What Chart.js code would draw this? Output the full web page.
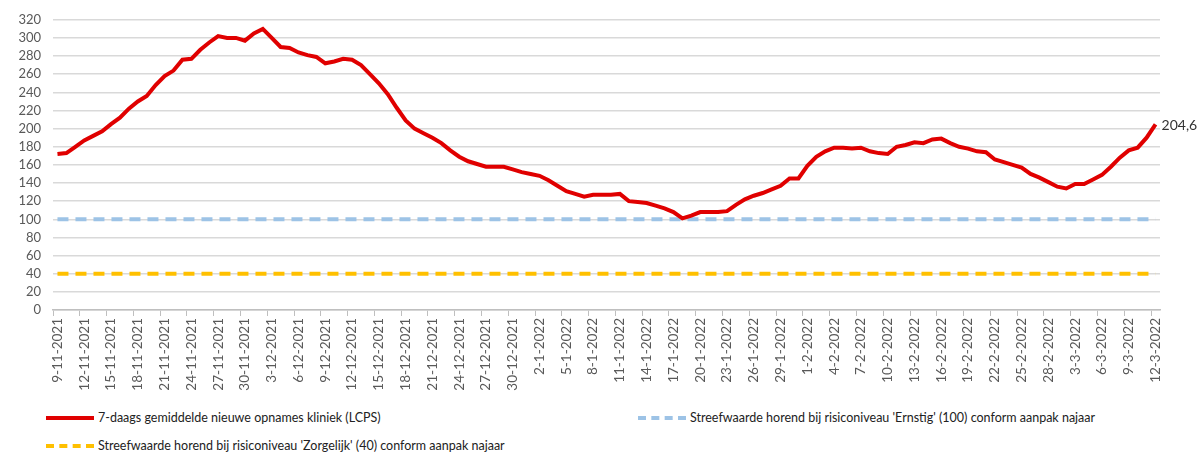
<!DOCTYPE html>
<html>
<head>
<meta charset="utf-8">
<script src="https://cdn.jsdelivr.net/npm/chart.js@4.4.0/dist/chart.umd.min.js"></script>
<style>
  body { margin: 0; background: #fff; }
  #wrap { position: relative; width: 1203px; height: 456px; }
  #chartBox { position: absolute; left: 0; top: 0; width: 1203px; height: 400px; }
  .leg { position: absolute; font-family: Lato, "Liberation Sans", sans-serif; font-size: 12.5px; color: #222; white-space: nowrap; display: flex; align-items: center; }
  .leg span.mark { display: inline-block; width: 48px; height: 0; margin-right: 4px; }
</style>
</head>
<body>
<div id="wrap">
  <div id="chartBox"><canvas id="chart"></canvas></div>
  <div class="leg" style="left:46px; top:410px;"><span class="mark" style="border-top:4px solid #e00000;"></span>7-daags gemiddelde nieuwe opnames kliniek (LCPS)</div>
  <div class="leg" style="left:638px; top:410px;"><span class="mark" style="border-top:4px dashed #9dc3e6;"></span>Streefwaarde horend bij risiconiveau 'Ernstig' (100) conform aanpak najaar</div>
  <div class="leg" style="left:46px; top:438px;"><span class="mark" style="border-top:4px dashed #ffc000;"></span>Streefwaarde horend bij risiconiveau 'Zorgelijk' (40) conform aanpak najaar</div>
</div>
<script>
// Dates (d-m-yyyy), one per day
const dates = [
  '9-11-2021','10-11-2021','11-11-2021','12-11-2021','13-11-2021','14-11-2021','15-11-2021','16-11-2021','17-11-2021','18-11-2021',
  '19-11-2021','20-11-2021','21-11-2021','22-11-2021','23-11-2021','24-11-2021','25-11-2021','26-11-2021','27-11-2021','28-11-2021',
  '29-11-2021','30-11-2021','1-12-2021','2-12-2021','3-12-2021','4-12-2021','5-12-2021','6-12-2021','7-12-2021','8-12-2021',
  '9-12-2021','10-12-2021','11-12-2021','12-12-2021','13-12-2021','14-12-2021','15-12-2021','16-12-2021','17-12-2021','18-12-2021',
  '19-12-2021','20-12-2021','21-12-2021','22-12-2021','23-12-2021','24-12-2021','25-12-2021','26-12-2021','27-12-2021','28-12-2021',
  '29-12-2021','30-12-2021','31-12-2021','1-1-2022','2-1-2022','3-1-2022','4-1-2022','5-1-2022','6-1-2022','7-1-2022',
  '8-1-2022','9-1-2022','10-1-2022','11-1-2022','12-1-2022','13-1-2022','14-1-2022','15-1-2022','16-1-2022','17-1-2022',
  '18-1-2022','19-1-2022','20-1-2022','21-1-2022','22-1-2022','23-1-2022','24-1-2022','25-1-2022','26-1-2022','27-1-2022',
  '28-1-2022','29-1-2022','30-1-2022','31-1-2022','1-2-2022','2-2-2022','3-2-2022','4-2-2022','5-2-2022','6-2-2022',
  '7-2-2022','8-2-2022','9-2-2022','10-2-2022','11-2-2022','12-2-2022','13-2-2022','14-2-2022','15-2-2022','16-2-2022',
  '17-2-2022','18-2-2022','19-2-2022','20-2-2022','21-2-2022','22-2-2022','23-2-2022','24-2-2022','25-2-2022','26-2-2022',
  '27-2-2022','28-2-2022','1-3-2022','2-3-2022','3-3-2022','4-3-2022','5-3-2022','6-3-2022','7-3-2022','8-3-2022',
  '9-3-2022','10-3-2022','11-3-2022','12-3-2022'
];

// 7-daags gemiddelde nieuwe opnames kliniek (LCPS)
const opnames = [
  172, 173, 180, 187, 192, 197, 205, 212, 222, 230,
  236, 248, 258, 264, 276, 277, 287, 295, 302, 300,
  300, 297, 305, 310, 300, 290, 289, 284, 281, 279,
  272, 274, 277, 276, 270, 260, 250, 238, 223, 209,
  200, 195, 190, 184, 176, 169, 164, 161, 158, 158,
  158, 155, 152, 150, 148, 143, 137, 131, 128, 125,
  127, 127, 127, 128, 120, 119, 118, 115, 112, 108,
  101, 104, 108, 108, 108, 109, 116, 122, 126, 129,
  133, 137, 145, 145, 159, 169, 175, 179, 179, 178,
  179, 175, 173, 172, 180, 182, 185, 184, 188, 189,
  184, 180, 178, 175, 174, 166, 163, 160, 157, 150,
  146, 141, 136, 134, 139, 139, 144, 149, 158, 168,
  176, 179, 190, 204.6
];

const ernstigLevel = 100;
const zorgelijkLevel = 40;

const yTicks = [0, 20, 40, 60, 80, 100, 120, 140, 160, 180, 200, 220, 240, 260, 280, 300, 320];

const fontFam = 'Lato, "Liberation Sans", sans-serif';

// Label the last point ("204,6")
const lastValueLabel = {
  id: 'lastValueLabel',
  afterDatasetsDraw(chart) {
    const meta = chart.getDatasetMeta(0);
    const pt = meta.data[meta.data.length - 1];
    const v = opnames[opnames.length - 1];
    const ctx = chart.ctx;
    ctx.save();
    ctx.font = '14px ' + fontFam;
    ctx.fillStyle = '#333';
    ctx.textAlign = 'left';
    ctx.textBaseline = 'middle';
    ctx.fillText(String(v).replace('.', ','), pt.x + 6, pt.y + 1);
    ctx.restore();
  }
};

new Chart(document.getElementById('chart'), {
  type: 'line',
  data: {
    labels: dates,
    datasets: [
      {
        label: '7-daags gemiddelde nieuwe opnames kliniek (LCPS)',
        data: opnames,
        borderColor: '#e00000',
        borderWidth: 4,
        pointRadius: 0,
        tension: 0,
        order: 0
      },
      {
        label: "Streefwaarde horend bij risiconiveau 'Ernstig' (100) conform aanpak najaar",
        data: dates.map(() => ernstigLevel),
        borderColor: '#9dc3e6',
        borderWidth: 4,
        borderDash: [11, 7],
        pointRadius: 0,
        order: 1
      },
      {
        label: "Streefwaarde horend bij risiconiveau 'Zorgelijk' (40) conform aanpak najaar",
        data: dates.map(() => zorgelijkLevel),
        borderColor: '#ffc000',
        borderWidth: 4,
        borderDash: [11, 7],
        pointRadius: 0,
        order: 2
      }
    ]
  },
  options: {
    responsive: true,
    maintainAspectRatio: false,
    animation: false,
    layout: { padding: { top: 17, right: 43, left: 0, bottom: 0 } },
    plugins: {
      legend: { display: false },
      tooltip: { enabled: false }
    },
    scales: {
      x: {
        offset: true,
        afterFit: (s) => { s.height = 90; },
        grid: {
          offset: true,
          drawOnChartArea: false,
          tickLength: 6,
          tickColor: (ctx) => (ctx.index % 3 === 0 ? '#bfbfbf' : 'rgba(0,0,0,0)')
        },
        border: { color: '#bfbfbf', width: 1.5 },
        ticks: {
          autoSkip: false,
          maxRotation: 90,
          minRotation: 90,
          padding: 2,
          color: '#595959',
          font: { family: fontFam, size: 13.5 },
          callback: (val, i) => (i % 3 === 0 ? dates[i] : '')
        }
      },
      y: {
        min: 0,
        max: 320,
        afterFit: (s) => { s.width = 53; },
        afterBuildTicks: (s) => { s.ticks = yTicks.map(v => ({ value: v })); },
        grid: { color: '#d9d9d9', lineWidth: 1.5, drawTicks: false },
        border: { display: false },
        ticks: {
          autoSkip: false,
          padding: 12,
          color: '#595959',
          font: { family: fontFam, size: 13 }
        }
      }
    }
  },
  plugins: [lastValueLabel]
});
</script>
</body>
</html>
